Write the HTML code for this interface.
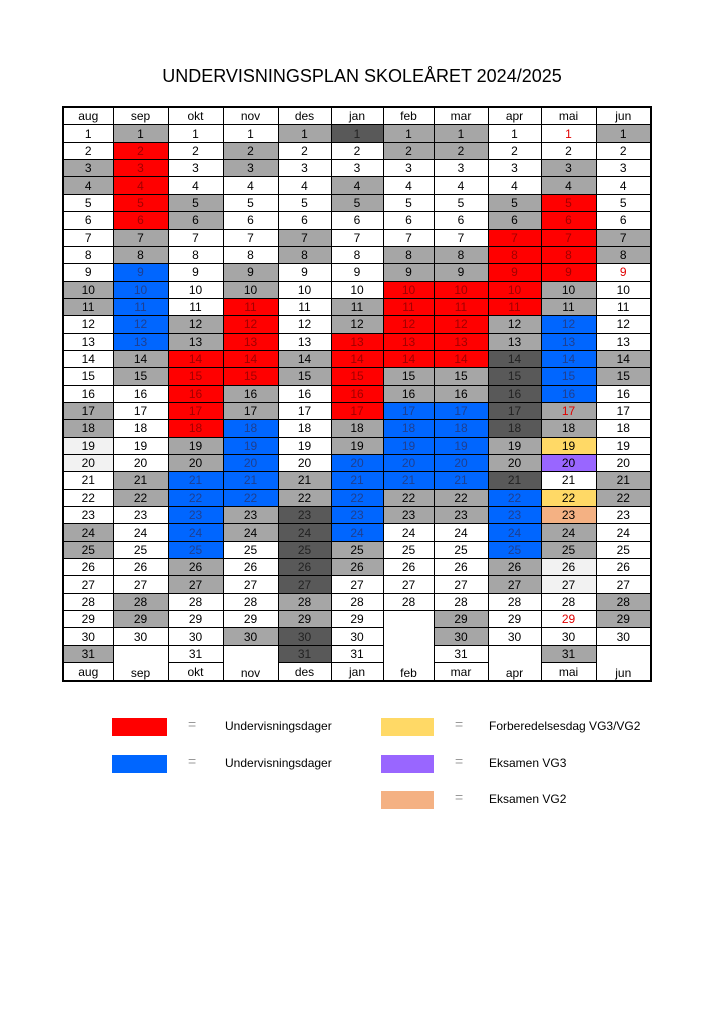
<!DOCTYPE html>
<html><head><meta charset="utf-8">
<style>
body{margin:0;width:724px;height:1024px;background:#fff;font-family:"Liberation Sans",sans-serif;position:relative;overflow:hidden}
#title{position:absolute;left:0;width:724px;top:66px;text-align:center;font-size:18px;color:#000}
table{position:absolute;left:62px;top:106px;width:589px;height:576px;border-collapse:collapse;table-layout:fixed;border:2px solid #000}
td{border:1.5px solid #000;text-align:center;font-size:12px;padding:0;line-height:14px;color:#000}
.lg{position:absolute;height:18px}
.eq{position:absolute;font-size:14px;color:#999}
.lt{position:absolute;font-size:12px}
</style></head><body>
<div id="title">UNDERVISNINGSPLAN SKOLEÅRET 2024/2025</div>
<table id="cal"></table>

<div class="lg" style="left:112px;top:718px;width:55px;background:#ff0000"></div>
<div class="eq" style="left:188px;top:716px">=</div>
<div class="lt" style="left:225px;top:719px">Undervisningsdager</div>
<div class="lg" style="left:112px;top:755px;width:55px;background:#0066ff"></div>
<div class="eq" style="left:188px;top:753px">=</div>
<div class="lt" style="left:225px;top:756px">Undervisningsdager</div>
<div class="lg" style="left:381px;top:718px;width:53px;background:#ffd966"></div>
<div class="eq" style="left:455px;top:716px">=</div>
<div class="lt" style="left:489px;top:719px">Forberedelsesdag VG3/VG2</div>
<div class="lg" style="left:381px;top:755px;width:53px;background:#9966ff"></div>
<div class="eq" style="left:455px;top:753px">=</div>
<div class="lt" style="left:489px;top:756px">Eksamen VG3</div>
<div class="lg" style="left:381px;top:791px;width:53px;background:#f4b183"></div>
<div class="eq" style="left:455px;top:789px">=</div>
<div class="lt" style="left:489px;top:792px">Eksamen VG2</div>

<script>
const months=["aug","sep","okt","nov","des","jan","feb","mar","apr","mai","jun"];
const daysInMonth=[31,30,31,30,31,31,28,31,30,31,30];
const colWidths=[50,55,55,55,53,52,51,54,53,55,55];
// codes per day: w white, g gray, d dark, r red, b blue, l light, y yellow, p purple, o orange
const codes=[
"wwggwwwwwggwwwwwggllwwwggwwwwwg",
"grrrrrggbbbbbggwwwwwggwwwwwggw",
"wwwwggwwwwwggrrrrrggbbbbbggwwww",
"wggwwwwwggrrrrrggbbbbbggwwwwwg",
"gwwwwwggwwwwwggwwwwwggdddddggdd",
"dwwggwwwwwggrrrrrggbbbbbggwwwww",
"ggwwwwwggrrrrrggbbbbbggwwwww",
"ggwwwwwggrrrrrggbbbbbggwwwwwggw",
"wwwwggrrrrrggdddddggdbbbbggwww",
"wwggrrrrrggbbbbbggypwyoggllwwwg",
"gwwwwwggwwwwwggwwwwwggwwwwwggw"
];
const redText=[[9,1],[9,17],[9,29],[10,9]];
const fill={w:"#ffffff",g:"#a6a6a6",d:"#595959",r:"#ff0000",b:"#0066ff",l:"#f2f2f2",y:"#ffd966",p:"#9966ff",o:"#f4b183"};
const textCol={r:"#a00000",b:"#1f3f8f",d:"#222"};
const t=document.getElementById('cal');
const cg=document.createElement('colgroup');
colWidths.forEach(w=>{const c=document.createElement('col');c.style.width=w+'px';cg.appendChild(c);});
t.appendChild(cg);
const hr=document.createElement('tr');
months.forEach(m=>{const td=document.createElement('td');td.textContent=m;


hr.appendChild(td);});
t.appendChild(hr);
for(let d=1;d<=31;d++){
  const tr=document.createElement('tr');
  months.forEach((m,i)=>{
    const n=daysInMonth[i];
    if(d<=n){
      const td=document.createElement('td');
      const c=codes[i][d-1]||'w';
      td.style.background=fill[c];
      if(textCol[c])td.style.color=textCol[c];
      if(redText.some(r=>r[0]===i&&r[1]===d))td.style.color="#e00000";
      td.textContent=d;
      
      
      tr.appendChild(td);
    } else if(d===n+1){
      const td=document.createElement('td');
      td.rowSpan=31-n+1;td.style.verticalAlign='bottom';td.style.background='#fff';
      td.textContent=m;
      
      
      tr.appendChild(td);
    }
  });
  t.appendChild(tr);
}
const fr=document.createElement('tr');
months.forEach((m,i)=>{if(daysInMonth[i]===31){const td=document.createElement('td');td.textContent=m;


fr.appendChild(td);}});
t.appendChild(fr);
</script>
</body></html>
